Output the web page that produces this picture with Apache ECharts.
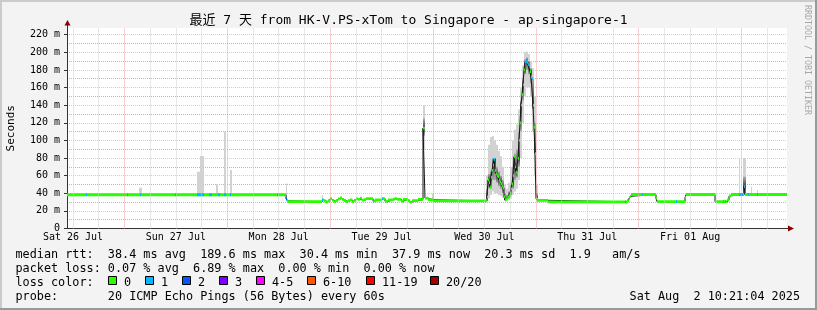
<!DOCTYPE html>
<html>
<head>
<meta charset="utf-8">
<script src="https://cdn.jsdelivr.net/npm/echarts@6.0.0/dist/echarts.min.js"></script>
<style>
html,body{margin:0;padding:0;background:#f3f3f3;}
#chart{width:817px;height:310px;}
</style>
</head>
<body>
<div id="chart"></div>
<script>
// ---------------- data ----------------
// time unit: hours since Sat 26 Jul 2025 00:00
const START_H = 10.6;
const END_H = 178.6;
const STEP_H = 14 / 60;            // one consolidated sample = 840 s
const Y_MAX = 227.6;               // ms

const yTickValues = [0, 20, 40, 60, 80, 100, 120, 140, 160, 180, 200, 220];
const dayLabelHours = [12, 36, 60, 84, 108, 132, 156];
const dayLabels = ['Sat 26 Jul', 'Sun 27 Jul', 'Mon 28 Jul', 'Tue 29 Jul', 'Wed 30 Jul', 'Thu 31 Jul', 'Fri 01 Aug'];
const majorGridHours = [24, 48, 72, 96, 120, 144, 168];
const minorGridHours = [12, 18, 30, 36, 42, 54, 60, 66, 78, 84, 90, 102, 108, 114, 126, 132, 138, 150, 156, 162, 174];

// median rtt (ms): each value holds from its start hour to the next start
const medStart = [10.60, 61.70, 61.93, 62.17, 70.10, 70.57, 71.03, 71.50, 71.97, 72.43, 72.90, 73.37, 73.83, 74.30,
  74.77, 75.23, 75.70, 76.17, 76.63, 77.10, 77.57, 78.03, 78.50, 78.97, 79.43, 79.90, 80.37, 82.00, 82.47, 84.10, 84.80,
  85.50, 86.67, 87.13, 87.60, 88.53, 89.00, 90.17, 90.63, 91.10, 92.50, 93.67, 94.13, 94.83, 96.00,
  108.60, 108.83, 109.07, 109.30, 109.53, 109.77, 110.00, 110.23, 110.47, 110.70, 110.93, 111.17, 111.40, 111.63,
  111.87, 112.10, 112.33, 112.57, 112.80, 113.03, 113.27, 113.50, 113.73, 113.97, 114.20, 114.43, 114.67, 114.90,
  115.13, 115.37, 115.60, 115.83, 116.07, 116.30, 116.53, 116.77, 117.00, 117.23, 117.47, 117.70, 117.93, 118.17,
  118.40, 118.63, 118.87, 119.10, 119.33, 119.57, 119.80, 120.03, 120.27,
  122.83, 141.27, 141.73, 141.97, 142.20, 148.03, 148.27, 154.80, 155.03, 161.80, 164.60, 165.07, 165.53, 168.57, 168.80];
const medMs = [38.3, 33.5, 31.5, 30.4, 32.4, 31.2, 30.2, 31.5, 33.8, 32.0, 30.6, 32.0, 33.5, 34.6,
  33.0, 31.8, 30.5, 31.6, 32.6, 30.6, 32.0, 33.6, 33.0, 34.2, 32.2, 32.8, 33.9, 31.3, 32.6, 34.0, 30.8,
  32.5, 33.4, 34.0, 33.0, 31.0, 33.0, 31.5, 30.0, 31.7, 33.0, 114.0, 34.5, 32.7, 31.3,
  36, 55, 52, 47, 58, 66, 72, 78.5, 66, 62, 60, 59, 55, 53,
  51, 48, 46, 36, 32.4, 33, 34, 35.5, 37, 40, 45, 50.5, 60, 81.5,
  70, 64, 62.7, 79.7, 100, 120, 140, 152, 163, 180, 189.4, 189.6, 189, 186,
  184.5, 178, 172, 170.5, 140, 115, 85, 34.3, 32,
  30.3, 31.5, 34, 36.5, 38.6, 34.4, 30.4, 35, 38.6, 30.4, 32.4, 36.9, 38.6, 47.5, 38.6];

// samples with packet loss (start hour, lost pings out of 20)
const lossStart = [15.03, 24.60, 27.63, 35.80, 40.93, 41.17, 41.40, 41.63, 41.87, 42.10, 42.33, 43.73, 43.97, 44.20,
  45.83, 46.07, 47.23, 47.47, 48.63, 59.60, 61.70, 70.10, 82.00, 84.10, 93.20, 110.23, 117.47, 117.70, 117.93,
  118.17, 118.40, 119.10, 140.80, 144.77, 152.70, 163.67, 164.13, 167.40, 167.63, 167.87, 168.10, 168.57, 169.50, 171.60];
const lossCount = [1, 1, 1, 1, 1, 1, 1, 1, 1, 1, 1, 1, 1, 1,
  1, 1, 1, 1, 1, 1, 2, 1, 1, 1, 1, 1, 1, 1, 1,
  1, 1, 1, 1, 1, 1, 1, 1, 1, 1, 1, 1, 1, 1, 1];

// smoke: spread of the 20 pings (ms) per column
const smokeStart = [27.40, 40.93, 41.63, 45.37, 47.23, 47.47, 48.63, 61.70, 70.10, 93.67, 95.77,
  108.37, 108.83, 109.30, 109.77, 110.23, 110.70, 111.17, 111.63, 112.10, 112.57, 113.03, 113.50, 113.97,
  114.43, 114.90, 115.37, 115.83, 116.30, 116.77, 117.23, 117.70, 118.17, 118.63, 119.10, 119.57, 120.03,
  167.40, 168.33, 170.20, 171.60];
const smokeEnd = [28.10, 41.63, 42.57, 45.83, 47.47, 47.70, 49.10, 61.93, 70.33, 94.13, 96.23,
  108.83, 109.30, 109.77, 110.23, 110.70, 111.17, 111.63, 112.10, 112.57, 113.03, 113.50, 113.97, 114.43,
  114.90, 115.37, 115.83, 116.30, 116.77, 117.23, 117.70, 118.17, 118.63, 119.10, 119.57, 120.03, 120.50,
  167.63, 169.03, 170.43, 171.83];
const smokeLo = [38.3, 38.3, 38.3, 38.3, 38.3, 38.3, 38.3, 33.5, 32.4, 90, 31.3,
  31, 34, 38, 42, 40, 40, 38, 37, 35, 31, 31, 32, 34,
  38, 42, 45, 55, 80, 120, 150, 160, 160, 150, 110, 60, 32,
  38.6, 38.6, 38.6, 38.6];
const smokeQ1 = [38.3, 38.3, 38.3, 38.3, 38.3, 38.3, 38.3, 33.5, 32.4, 105, 31.3,
  33, 45, 45, 55, 55, 52, 48, 45, 40, 32, 33, 34, 38,
  45, 55, 58, 70, 110, 145, 175, 180, 175, 165, 135, 85, 34,
  38.6, 38.6, 38.6, 38.6];
const smokeQ3 = [38.3, 38.3, 38.3, 38.3, 38.3, 38.3, 38.3, 33.5, 32.4, 125, 31.3,
  45, 62, 65, 80, 80, 70, 65, 60, 55, 40, 38, 42, 50,
  70, 85, 90, 110, 145, 170, 192, 194, 190, 182, 170, 120, 40,
  38.6, 58.8, 38.6, 38.6];
const smokeHi = [46.3, 64.5, 82.3, 50.5, 110, 110, 66.4, 51.3, 38, 140, 40,
  60, 95, 104, 105, 100, 95, 88, 82, 70, 50, 45, 52, 70,
  100, 112, 118, 135, 160, 185, 200, 201, 198, 190, 182, 150, 50,
  80, 80, 47.5, 43.7];

const lossLegendLabels = ['0', '1', '2', '3', '4-5', '6-10', '11-19', '20/20'];
const lossLegendColors = ['#26ff00', '#00b8ff', '#0059ff', '#7e00ff', '#ff00ff', '#ff5500', '#ff0000', '#a10000'];

const statLines = [
  'median rtt:  38.4 ms avg  189.6 ms max  30.4 ms min  37.9 ms now  20.3 ms sd  1.9   am/s',
  'packet loss: 0.07 % avg  6.89 % max  0.00 % min  0.00 % now',
  'loss color:',
  'probe:       20 ICMP Echo Pings (56 Bytes) every 60s'
];
const titleText = '最近 7 天 from HK-V.PS-xTom to Singapore - ap-singapore-1';
const dateText = 'Sat Aug  2 10:21:04 2025';

// ---------------- helpers ----------------
function segEnd(i) { return i + 1 < medStart.length ? medStart[i + 1] : END_H; }
function medianAt(t) {
  for (let i = medStart.length - 1; i >= 0; i--) if (t >= medStart[i]) return medMs[i];
  return medMs[0];
}
function lossColor(n) {
  if (n <= 0) return lossLegendColors[0];
  if (n <= 3) return lossLegendColors[n];
  if (n <= 5) return lossLegendColors[4];
  if (n <= 10) return lossLegendColors[5];
  if (n <= 19) return lossLegendColors[6];
  return lossLegendColors[7];
}

const medLineData = [];
const bandData = [];
medStart.forEach((s, i) => {
  const e = segEnd(i);
  medLineData.push([s, medMs[i]], [e, medMs[i]]);
  bandData.push([s, e, medMs[i], 0]);
});
lossStart.forEach((s, i) => {
  bandData.push([s, s + STEP_H, medianAt(s + STEP_H / 2), lossCount[i]]);
});
const smokeData = smokeStart.map((s, i) => [s, smokeEnd[i], smokeLo[i], smokeQ1[i], smokeQ3[i], smokeHi[i], medianAt((s + smokeEnd[i]) / 2)]);

const MONO = '"DejaVu Sans Mono", "Noto Sans CJK SC", monospace';

const gridLineData = [];
minorGridHours.forEach(h => gridLineData.push({ xAxis: h, lineStyle: { color: '#cfcfcf', type: [1, 1], width: 1 } }));
majorGridHours.forEach(h => gridLineData.push({ xAxis: h, lineStyle: { color: '#f0a0a0', type: [1, 1], width: 1 } }));

// ---------------- chart ----------------
const chart = echarts.init(document.getElementById('chart'), null, { renderer: 'canvas', width: 817, height: 310 });

const graphics = [
  { type: 'rect', shape: { x: 0, y: 0, width: 817, height: 2 }, style: { fill: '#cbcbcb' }, silent: true },
  { type: 'rect', shape: { x: 0, y: 0, width: 2, height: 310 }, style: { fill: '#cbcbcb' }, silent: true },
  { type: 'rect', shape: { x: 0, y: 308, width: 817, height: 2 }, style: { fill: '#999999' }, silent: true },
  { type: 'rect', shape: { x: 815, y: 0, width: 2, height: 310 }, style: { fill: '#999999' }, silent: true },
  { type: 'text', x: 408.5, y: 21, silent: true,
    style: { text: titleText, font: '13px ' + MONO, fill: '#000', align: 'center', verticalAlign: 'middle' } },
  { type: 'text', x: 11, y: 128.3, rotation: Math.PI / 2, silent: true,
    style: { text: 'Seconds', font: '11px ' + MONO, fill: '#000', align: 'center', verticalAlign: 'middle' } },
  { type: 'text', x: 807.5, y: 60, rotation: -Math.PI / 2, silent: true,
    style: { text: 'RRDTOOL / TOBI OETIKER', font: '8.3px ' + MONO, fill: '#a8a8a8', align: 'center', verticalAlign: 'middle' } },
  // axis arrows
  { type: 'line', shape: { x1: 67.5, y1: 28, x2: 67.5, y2: 24 }, style: { stroke: '#333', lineWidth: 1 }, silent: true },
  { type: 'polygon', shape: { points: [[64.5, 25.5], [70.5, 25.5], [67.5, 20]] }, style: { fill: '#8b0000' }, silent: true },
  { type: 'line', shape: { x1: 787, y1: 228.5, x2: 789, y2: 228.5 }, style: { stroke: '#333', lineWidth: 1 }, silent: true },
  { type: 'polygon', shape: { points: [[788, 225.5], [788, 231.5], [794, 228.5]] }, style: { fill: '#8b0000' }, silent: true },
  { type: 'text', x: 800, y: 296.7, silent: true,
    style: { text: dateText, font: '11.8px ' + MONO, fill: '#000', align: 'right', verticalAlign: 'middle' } }
];
const rowY = [254.7, 268.7, 282.7, 296.7];
statLines.forEach((t, i) => graphics.push({ type: 'text', x: 15.5, y: rowY[i], silent: true,
  style: { text: t, font: '11.8px ' + MONO, fill: '#000', align: 'left', verticalAlign: 'middle' } }));
const legendBoxX = [108, 145, 182, 219, 256, 307, 366, 430];
lossLegendLabels.forEach((lab, i) => {
  graphics.push({ type: 'rect', shape: { x: legendBoxX[i] + 0.5, y: 276.5, width: 8, height: 8 }, silent: true,
    style: { fill: lossLegendColors[i], stroke: '#000', lineWidth: 1 } });
  graphics.push({ type: 'text', x: legendBoxX[i] + 16, y: rowY[2], silent: true,
    style: { text: lab, font: '11.8px ' + MONO, fill: '#000', align: 'left', verticalAlign: 'middle' } });
});

const option = {
  animation: false,
  backgroundColor: '#f3f3f3',
  grid: { left: 67, top: 28, width: 720, height: 200.5, show: true, backgroundColor: '#ffffff', borderWidth: 0 },
  xAxis: {
    type: 'value', min: START_H, max: END_H,
    axisLine: { show: true, lineStyle: { color: '#333', width: 1 } },
    axisTick: { show: false },
    splitLine: { show: false },
    axisLabel: {
      customValues: dayLabelHours,
      formatter: v => { const k = dayLabelHours.indexOf(v); return k >= 0 ? dayLabels[k] : ''; },
      fontFamily: MONO, fontSize: 10, color: '#000', margin: 4
    }
  },
  yAxis: [{
    type: 'value', min: 0, max: Y_MAX, interval: 10,
    axisLine: { show: true, lineStyle: { color: '#333', width: 1 } },
    axisTick: { show: false },
    axisLabel: {
      formatter: v => (Math.abs(v % 20) < 1e-9 ? (v === 0 ? '0' : v + ' m') : ''),
      fontFamily: MONO, fontSize: 10, color: '#000', margin: 7
    },
    splitLine: { show: true, showMinLine: false, showMaxLine: false,
      lineStyle: { color: ['#f0a0a0', '#cfcfcf'], type: [1, 1], width: 1 } }
  }, {
    type: 'value', min: 0, max: Y_MAX, position: 'left',
    axisLine: { show: false }, axisLabel: { show: false }, splitLine: { show: false },
    axisTick: { show: true, customValues: yTickValues, length: 3, lineStyle: { color: '#333' } }
  }],
  graphic: graphics,
  series: [
    {
      type: 'line', data: [], z: 1, silent: true,
      markLine: { silent: true, symbol: ['none', 'none'], label: { show: false }, emphasis: { disabled: true },
        animation: false, data: gridLineData }
    },
    {
      type: 'custom', z: 2, clip: true, silent: true,
      data: smokeData,
      encode: { x: [0, 1], y: [2, 5] },
      renderItem: (params, api) => {
        const x0 = api.coord([api.value(0), 0])[0];
        const x1 = api.coord([api.value(1), 0])[0];
        const yLo = api.coord([START_H, api.value(2)])[1];
        const yQ1 = api.coord([START_H, api.value(3)])[1];
        const yQ3 = api.coord([START_H, api.value(4)])[1];
        const yHi = api.coord([START_H, api.value(5)])[1];
        const yMed = api.coord([START_H, api.value(6)])[1];
        const children = [{ type: 'rect', shape: { x: x0, y: yHi, width: x1 - x0, height: yLo - yHi }, style: { fill: '#d2d2d2' } }];
        if (yQ1 - yQ3 > 0.5) {
          let m = (yMed - yQ3) / (yQ1 - yQ3);
          m = Math.max(0, Math.min(1, m));
          children.push({ type: 'rect', shape: { x: x0, y: yQ3, width: x1 - x0, height: yQ1 - yQ3 },
            style: { fill: new echarts.graphic.LinearGradient(0, 0, 0, 1, [
              { offset: 0, color: '#acacac' }, { offset: m, color: '#404040' }, { offset: 1, color: '#acacac' }]) } });
        }
        return { type: 'group', children };
      }
    },
    {
      type: 'line', z: 3, silent: true, data: medLineData, symbol: 'none',
      lineStyle: { color: '#151515', width: 1 }
    },
    {
      type: 'custom', z: 4, clip: true, silent: true,
      data: bandData,
      encode: { x: [0, 1], y: 2 },
      renderItem: (params, api) => {
        const p0 = api.coord([api.value(0), api.value(2)]);
        const p1 = api.coord([api.value(1), api.value(2)]);
        return { type: 'rect', shape: { x: p0[0], y: p0[1] - 1.4, width: p1[0] - p0[0], height: 2.8 },
          style: { fill: lossColor(api.value(3)) } };
      }
    }
  ]
};
chart.setOption(option);
</script>
</body>
</html>
